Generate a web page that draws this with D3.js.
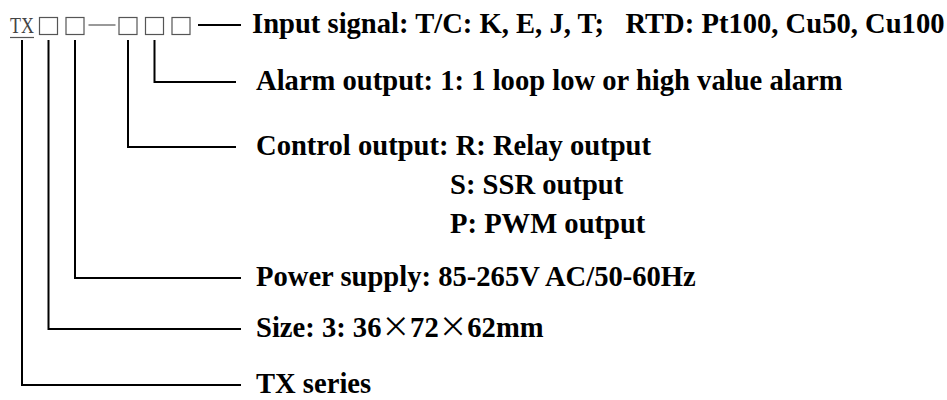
<!DOCTYPE html>
<html>
<head>
    <meta charset="utf-8">
    <title>TX model code</title>
    <script src="https://d3js.org/d3.v7.min.js"></script>
    <style>
        body { margin: 0; background: #fff; }
        text { font-family: "Liberation Serif", "Times New Roman", serif; }
        .lbl { font-weight: bold; font-size: 28.6px; fill: #000; white-space: pre; }
        .cjk { font-family: "Noto Sans CJK SC", sans-serif; font-weight: normal; }
    </style>
</head>
<body>
    <svg id="chart" width="947" height="400"></svg>

    <script>
        // code slots in the model string, left to right
        var slots = ["TX", "box", "box", "dash", "box", "box", "box"]

        // labels, top to bottom, and which slot each one hangs from (-1 = none)
        var labels = [
            "Input signal: T/C: K, E, J, T;   RTD: Pt100, Cu50, Cu100",
            "Alarm output: 1: 1 loop low or high value alarm",
            "Control output: R: Relay output",
            "S: SSR output",
            "P: PWM output",
            "Power supply: 85-265V AC/50-60Hz",
            "Size: 3: 36\u00d772\u00d762mm",
            "TX series"
        ]
        var labelSlot = [6, 5, 4, -1, -1, 2, 1, 0]
        var labelIndent = [0, 0, 0, 1, 1, 0, 0, 0]

        // layout
        var rowY = [25, 82, 147, 186, 225, 278, 329, 385]
        var lineEnd = 241, textX = 254, indentX = 450, codeY = 25

        var svg = d3.select("#chart")
        var x = d3.scaleLinear([0, slots.length - 1], [22, 181])

        // model string
        var g = svg.append("g")
        slots.forEach(function (s, i) {
            if (s == "box") {
                g.append("rect")
                    .attr("x", x(i) - 9).attr("y", codeY - 7.5)
                    .attr("width", 18).attr("height", 17)
                    .attr("fill", "none").attr("stroke", "#555").attr("stroke-width", 1.2)
            } else if (s == "dash") {
                g.append("line")
                    .attr("x1", x(i) - 13).attr("x2", x(i) + 14)
                    .attr("y1", codeY).attr("y2", codeY)
                    .attr("stroke", "#555").attr("stroke-width", 1.2)
            } else {
                g.append("text")
                    .attr("x", x(i) - 12).attr("y", codeY + 8)
                    .attr("textLength", 24)
                    .attr("lengthAdjust", "spacingAndGlyphs")
                    .style("font-size", "24px").style("fill", "#444")
                    .text(s)
                g.append("line")
                    .attr("x1", x(i) - 12).attr("x2", x(i) + 12)
                    .attr("y1", codeY + 12.5).attr("y2", codeY + 12.5)
                    .attr("stroke", "#555").attr("stroke-width", 1.2)
            }
        })

        // leader lines
        labels.forEach(function (l, i) {
            var k = labelSlot[i]
            if (k < 0) return
            var path
            if (i == 0) {
                path = "M" + (x(k) + 17) + "," + rowY[i] + "H" + lineEnd
            } else {
                path = "M" + x(k) + "," + (codeY + 15) + "V" + rowY[i] + "H" + (lineEnd - (i < 3 ? 5 : 0))
            }
            svg.append("path")
                .attr("d", path)
                .attr("fill", "none")
                .attr("stroke", "#000")
                .attr("stroke-width", 2)
        })

        // label text
        svg.selectAll(".lbl")
            .data(labels)
            .enter()
            .append("text")
            .attr("class", "lbl")
            .attr("x", (d, i) => labelIndent[i] ? indentX : (i == 0 ? textX - 2 : textX + 2))
            .attr("y", (d, i) => rowY[i] + 7.5)
            .each(function (d) {
                var t = d3.select(this)
                d.split("\u00d7").forEach(function (part, j) {
                    if (j > 0) t.append("tspan").attr("class", "cjk").text("\u00d7")
                    t.append("tspan").text(part)
                })
            })
    </script>
</body>
</html>
